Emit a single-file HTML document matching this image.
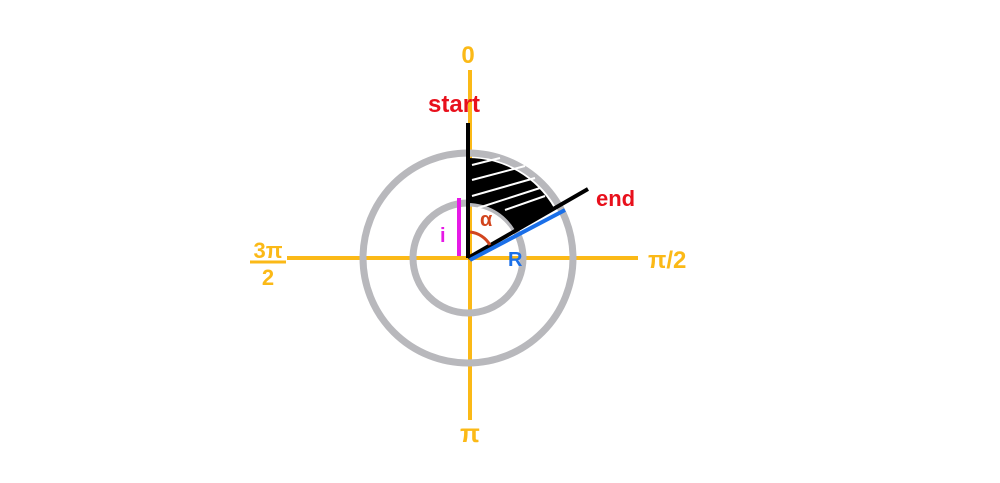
<!DOCTYPE html>
<html><head><meta charset="utf-8"><style>
html,body{margin:0;padding:0;background:#fff;width:1000px;height:483px;overflow:hidden}
text{font-family:"Liberation Sans",sans-serif;font-weight:bold}
</style></head><body>
<svg width="1000" height="483" viewBox="0 0 1000 483">
<g>
<line x1="287" y1="258" x2="638" y2="258" stroke="#fbb917" stroke-width="4"/>
<line x1="470" y1="70" x2="470" y2="420" stroke="#fbb917" stroke-width="4"/>
</g>
<circle cx="468" cy="258" r="105" fill="none" stroke="#b8b8bc" stroke-width="7"/>
<circle cx="468" cy="258" r="55" fill="none" stroke="#b8b8bc" stroke-width="7"/>
<path d="M468,158 A100,100 0 0 1 554,208 L515,230 A55,55 0 0 0 468,203 Z" fill="#000"/>
<g stroke="#fff" stroke-width="2">
<line x1="472" y1="165" x2="500" y2="158"/>
<line x1="472" y1="180" x2="525" y2="166"/>
<line x1="472" y1="196" x2="535" y2="178"/>
<line x1="478" y1="208" x2="540" y2="188"/>
<line x1="505" y1="210" x2="545" y2="196"/>
</g>
<line x1="468" y1="123" x2="468" y2="258" stroke="#000" stroke-width="4"/>
<line x1="468" y1="258" x2="588" y2="189" stroke="#000" stroke-width="4"/>
<line x1="470" y1="260" x2="565" y2="210" stroke="#1a6fe8" stroke-width="4"/>
<line x1="459" y1="198" x2="459" y2="256" stroke="#e619e6" stroke-width="4"/>
<path d="M470,232 A26,26 0 0 1 490,245" fill="none" stroke="#d2451e" stroke-width="3"/>
<text x="480" y="226" fill="#d2451e" font-size="20">α</text>
<text x="440" y="242" fill="#e619e6" font-size="20">i</text>
<text x="508" y="266" fill="#1a6fe8" font-size="20">R</text>
<text x="428" y="112" fill="#e8101c" font-size="24">start</text>
<text x="596" y="206" fill="#e8101c" font-size="22">end</text>
<text x="468" y="63" fill="#fbb917" font-size="24" text-anchor="middle">0</text>
<text x="470" y="442" fill="#fbb917" font-size="26" text-anchor="middle">π</text>
<text x="648" y="268" fill="#fbb917" font-size="24">π/2</text>
<g>
<text x="268" y="258" fill="#fbb917" font-size="22" text-anchor="middle">3π</text>
<line x1="250" y1="262" x2="286" y2="262" stroke="#fbb917" stroke-width="3"/>
<text x="268" y="285" fill="#fbb917" font-size="22" text-anchor="middle">2</text>
</g>
</svg>
</body></html>
